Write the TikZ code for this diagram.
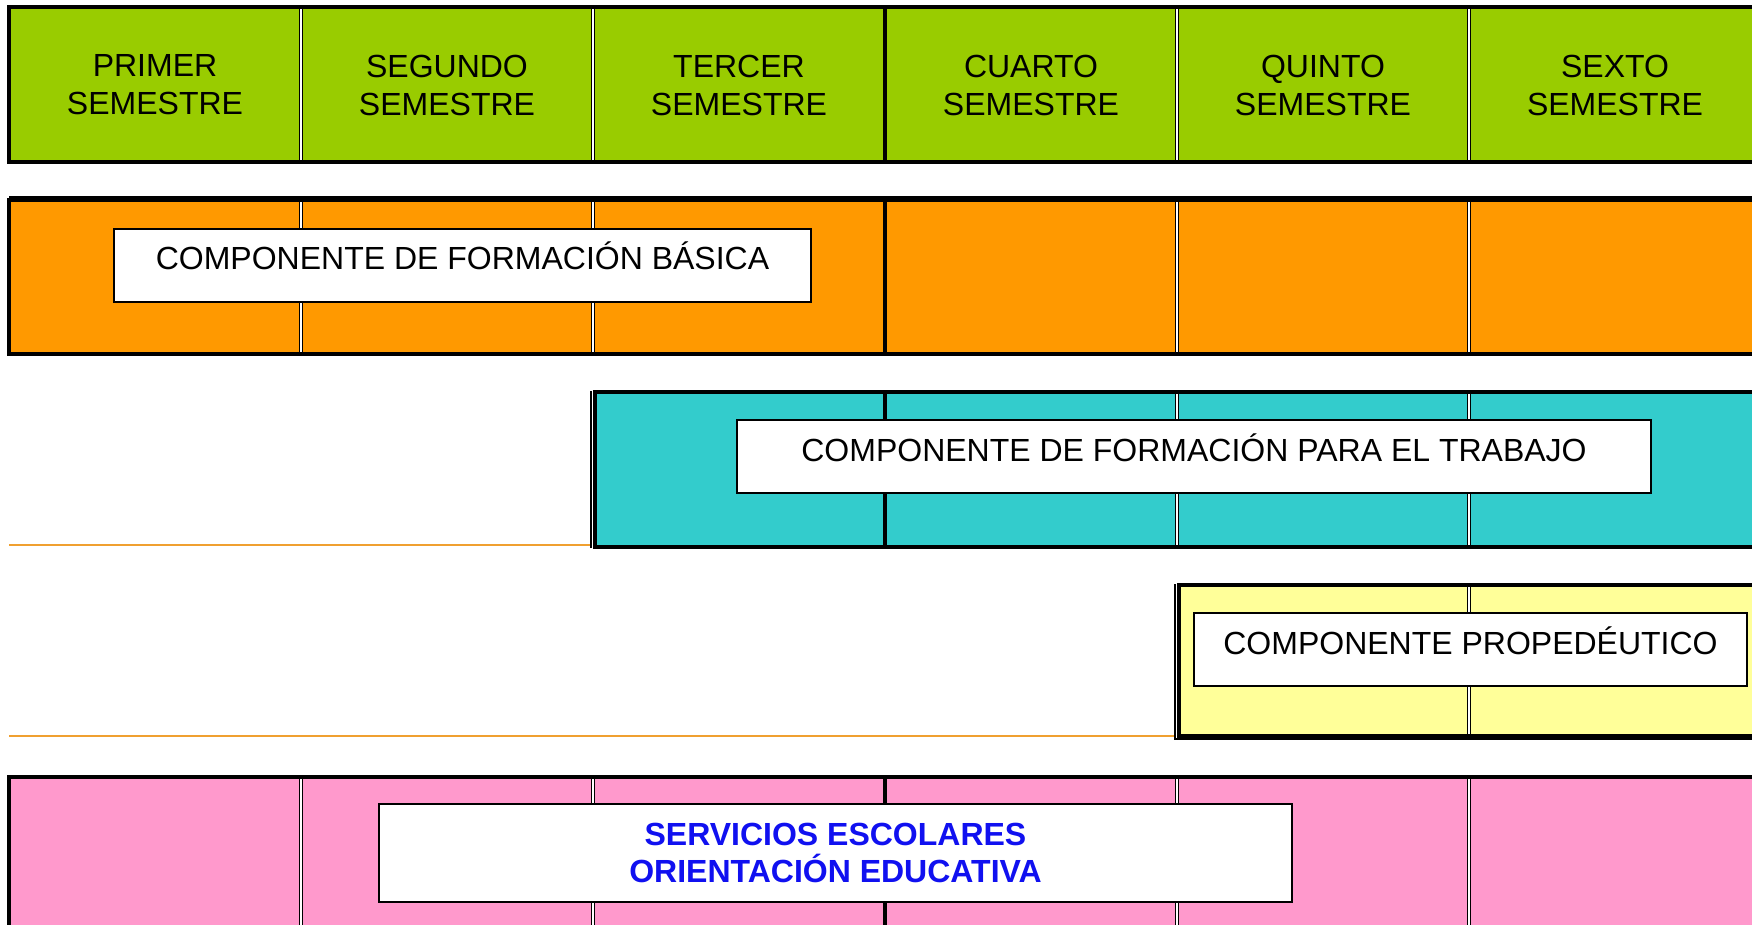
\documentclass[tikz,border=0pt]{standalone}
\usepackage{fontspec}
\setmainfont{Liberation Sans}
\definecolor{semgreen}{HTML}{99CC00}
\definecolor{basorange}{HTML}{FF9900}
\definecolor{trabcyan}{HTML}{33CCCC}
\definecolor{propyellow}{HTML}{FFFF99}
\definecolor{servpink}{HTML}{FF99CC}
\definecolor{rulorange}{HTML}{F0A030}
\definecolor{servblue}{HTML}{1010F0}
\tikzset{
	semtext/.style={align=center, font=\fontsize{16}{19}\selectfont},
	compbox/.style={draw, fill=white, line width=1pt, inner sep=0pt, align=center, font=\fontsize{16}{19}\selectfont},
	textup/.style={text height=14pt, text depth=9.5pt},
	sepline/.style={double, line width=0.8pt, double distance=0.6pt},
	frameline/.style={line width=1.8pt},
	thinline/.style={line width=0.6pt},
}

\begin{document}
\begin{tikzpicture}[x=0.5pt,y=-0.5pt]
				%%%%% START %%%%%
				\def\rowh{155}
				\def\ya{7}
				\def\yb{199}
				\def\yc{392}
				\def\yd{585}
				\def\ye{777}
				\def\xa{9}
				\def\xb{301}
				\def\xc{593}
				\def\xd{885}
				\def\xe{1177}
				\def\xf{1469}
				\def\xend{1800}

				\clip (0,0) rectangle (1752,925);

				% semestres
				\fill[semgreen] (\xa,\ya) rectangle (\xend,\ya+\rowh);
				\draw[sepline] (\xb,\ya) -- (\xb,\ya+\rowh);
				\draw[sepline] (\xc,\ya) -- (\xc,\ya+\rowh);
				\draw[frameline] (\xd,\ya) -- (\xd,\ya+\rowh);
				\draw[sepline] (\xe,\ya) -- (\xe,\ya+\rowh);
				\draw[sepline] (\xf,\ya) -- (\xf,\ya+\rowh);
				\draw[frameline] (\xa,\ya) rectangle (\xend,\ya+\rowh);

				\node[semtext] (primer) at (155,\ya+78) {PRIMER\\SEMESTRE};
				\node[semtext] (segundo) at (447,\ya+78) {SEGUNDO\\SEMESTRE};
				\node[semtext] (tercer) at (739,\ya+78) {TERCER\\SEMESTRE};
				\node[semtext] (cuarto) at (1031,\ya+78) {CUARTO\\SEMESTRE};
				\node[semtext] (quinto) at (1323,\ya+78) {QUINTO\\SEMESTRE};
				\node[semtext] (sexto) at (1615,\ya+78) {SEXTO\\SEMESTRE};

				% formacion basica
				\fill[basorange] (\xa,\yb) rectangle (\xend,\yb+\rowh);
				\draw[sepline] (\xb,\yb) -- (\xb,\yb+\rowh);
				\draw[sepline] (\xc,\yb) -- (\xc,\yb+\rowh);
				\draw[frameline] (\xd,\yb) -- (\xd,\yb+\rowh);
				\draw[sepline] (\xe,\yb) -- (\xe,\yb+\rowh);
				\draw[sepline] (\xf,\yb) -- (\xf,\yb+\rowh);
				\draw[frameline] (\xa,\yb+1) rectangle (\xend,\yb+\rowh);
				\draw[thinline] (\xa,\yb-2) -- (\xend,\yb-2);

				\node[compbox, textup, minimum width=348.5pt, minimum height=36.5pt] (basica) at (462.5,265.5) {COMPONENTE DE FORMACIÓN BÁSICA};

				% formacion para el trabajo
				\fill[trabcyan] (\xc,\yc) rectangle (\xend,\yc+\rowh);
				\draw[frameline] (\xd,\yc) -- (\xd,\yc+\rowh);
				\draw[sepline] (\xe,\yc) -- (\xe,\yc+\rowh);
				\draw[sepline] (\xf,\yc) -- (\xf,\yc+\rowh);
				\draw[frameline] (\xc+2,\yc) rectangle (\xend,\yc+\rowh);
				\draw[thinline] (\xc-2,\yc-1) -- (\xc-2,\yc+\rowh+1);
				\draw[thinline, rulorange] (\xa,\yc+\rowh-2) -- (\xc-3,\yc+\rowh-2);

				\node[compbox, textup, minimum width=457pt, minimum height=36.5pt] (trabajo) at (1194,456.5) {COMPONENTE DE FORMACIÓN PARA EL TRABAJO};

				% propedeutico
				\fill[propyellow] (\xe,\yd) rectangle (\xend,\yd+\rowh-4);
				\draw[sepline] (\xf,\yd) -- (\xf,\yd+\rowh-4);
				\draw[frameline] (\xe+2,\yd) rectangle (\xend,\yd+\rowh-4);
				\draw[thinline] (\xe-2,\yd-1) -- (\xe-2,\yd+\rowh-1) -- (\xend,\yd+\rowh-1);
				\draw[thinline, rulorange] (\xa,\yd+\rowh-4) -- (\xe-3,\yd+\rowh-4);

				\node[compbox, textup, minimum width=276.5pt, minimum height=36.5pt] (propedeutico) at (1470.5,649.5) {COMPONENTE PROPEDÉUTICO};

				% servicios
				\fill[servpink] (\xa,\ye) rectangle (\xend,\ye+\rowh);
				\draw[sepline] (\xb,\ye) -- (\xb,\ye+\rowh);
				\draw[sepline] (\xc,\ye) -- (\xc,\ye+\rowh);
				\draw[frameline] (\xd,\ye) -- (\xd,\ye+\rowh);
				\draw[sepline] (\xe,\ye) -- (\xe,\ye+\rowh);
				\draw[sepline] (\xf,\ye) -- (\xf,\ye+\rowh);
				\draw[frameline] (\xa,\ye) rectangle (\xend,\ye+\rowh);

				\node[compbox, minimum width=456.5pt, minimum height=49pt, text=servblue, font=\fontsize{16}{18.5}\selectfont\bfseries] (servicios) at (835.5,853) {SERVICIOS ESCOLARES\\ORIENTACIÓN EDUCATIVA};
				%%%%% START %%%%%
\end{tikzpicture}
\end{document}
